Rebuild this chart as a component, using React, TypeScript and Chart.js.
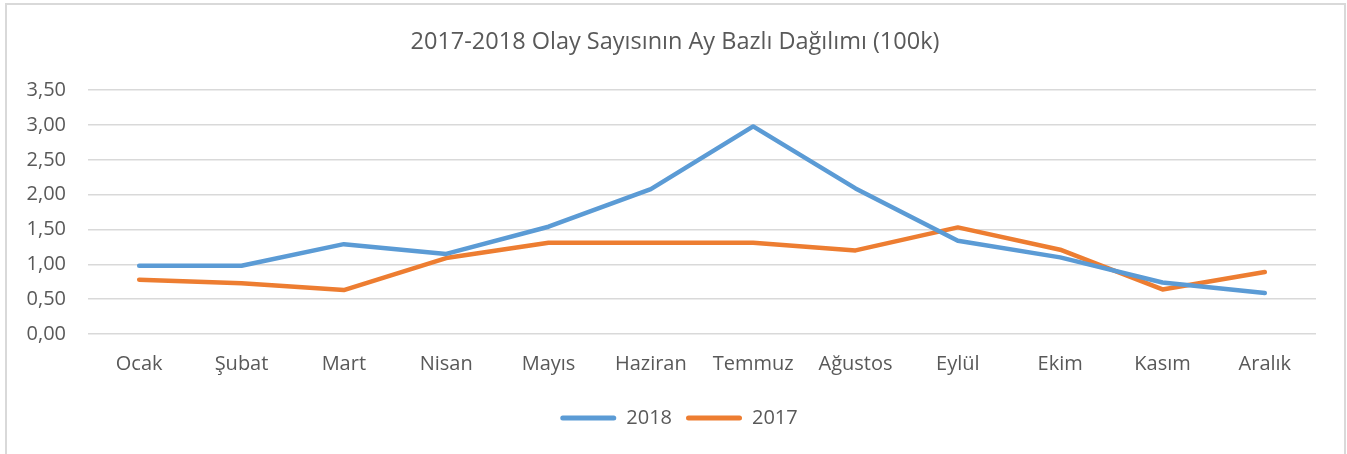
import React, { useEffect, useRef } from 'react';
import { Chart, registerables } from 'chart.js';

Chart.register(...registerables);

const chartTitle = '2017-2018 Olay Sayısının Ay Bazlı Dağılımı (100k)';
const months = ['Ocak', 'Şubat', 'Mart', 'Nisan', 'Mayıs', 'Haziran', 'Temmuz', 'Ağustos', 'Eylül', 'Ekim', 'Kasım', 'Aralık'];
const series2018 = [0.98, 0.98, 1.29, 1.15, 1.54, 2.08, 2.98, 2.09, 1.34, 1.10, 0.74, 0.59];
const series2017 = [0.78, 0.73, 0.63, 1.09, 1.31, 1.31, 1.31, 1.20, 1.53, 1.21, 0.64, 0.89];
const yMin = 0;
const yMax = 3.5;
const yStep = 0.5;

const FONT = "'Open Sans', sans-serif";
const TEXT = '#595959';
const BLUE = '#5B9BD5';
const ORANGE = '#ED7D31';
const GRID = '#d9d9d9';

const boxShift = {
  id: 'boxShift',
  afterLayout(chart: any) {
    const lg = chart.legend;
    if (lg) {
      lg.left += 21;
      lg.right += 21;
    }
    const tt = chart.titleBlock;
    if (tt) {
      tt.left += 17;
      tt.right += 17;
    }
  },
};

export default function App() {
  const ref = useRef<HTMLCanvasElement | null>(null);

  useEffect(() => {
    if (!ref.current) return;
    const chart = new Chart(ref.current, {
      type: 'line',
      data: {
        labels: months,
        datasets: [
          {
            label: '2018',
            data: series2018,
            borderColor: BLUE,
            backgroundColor: BLUE,
            borderWidth: 4.5,
            pointRadius: 0,
            pointHoverRadius: 0,
            tension: 0,
            borderCapStyle: 'round',
            borderJoinStyle: 'round',
          },
          {
            label: '2017',
            data: series2017,
            borderColor: ORANGE,
            backgroundColor: ORANGE,
            borderWidth: 4.5,
            pointRadius: 0,
            pointHoverRadius: 0,
            tension: 0,
            borderCapStyle: 'round',
            borderJoinStyle: 'round',
          },
        ],
      },
      plugins: [boxShift],
      options: {
        animation: false,
        responsive: false,
        maintainAspectRatio: false,
        layout: { padding: { left: 0, right: 31, top: 0, bottom: 16 } },
        plugins: {
          tooltip: { enabled: false },
          title: {
            display: true,
            text: chartTitle,
            color: TEXT,
            font: { family: FONT, size: 23.5, weight: 'normal' },
            padding: { top: 28, bottom: 34 },
          },
          legend: {
            display: true,
            position: 'bottom',
            labels: {
              color: TEXT,
              font: { family: FONT, size: 20 },
              boxWidth: 56,
              boxHeight: 5,
              padding: 14,
              generateLabels: (c: any) =>
                c.data.datasets.map((ds: any, i: number) => ({
                  text: ds.label,
                  fillStyle: ds.borderColor,
                  strokeStyle: ds.borderColor,
                  lineWidth: 0,
                  borderRadius: 2.5,
                  fontColor: TEXT,
                  hidden: false,
                  datasetIndex: i,
                })),
            },
          },
        },
        scales: {
          x: {
            offset: true,
            grid: { display: false, drawTicks: false },
            border: { display: false },
            ticks: { color: TEXT, font: { family: FONT, size: 20 }, padding: 18, maxRotation: 0, autoSkip: false },
            afterFit: (s: any) => { s.height = 60; },
          },
          y: {
            min: yMin,
            max: yMax,
            grid: { color: GRID, lineWidth: 1.5, drawTicks: false },
            border: { display: false },
            ticks: {
              stepSize: yStep,
              color: TEXT,
              font: { family: FONT, size: 20 },
              padding: 22,
              callback: (v: any) => Number(v).toFixed(2).replace('.', ','),
            },
            afterFit: (s: any) => { s.width = 88; },
          },
        },
      },
    });
    return () => chart.destroy();
  }, []);

  return (
    <div style={{ position: 'absolute', left: 0, top: 0, width: 1347, height: 454, background: '#fff', overflow: 'hidden' }}>
      <div style={{ position: 'absolute', left: 5, top: 3, width: 1341, height: 470, border: '2px solid #d9d9d9', boxSizing: 'border-box' }} />
      <canvas ref={ref} width={1347} height={454} style={{ position: 'absolute', left: 0, top: 0, width: 1347, height: 454 }} />
    </div>
  );
}
